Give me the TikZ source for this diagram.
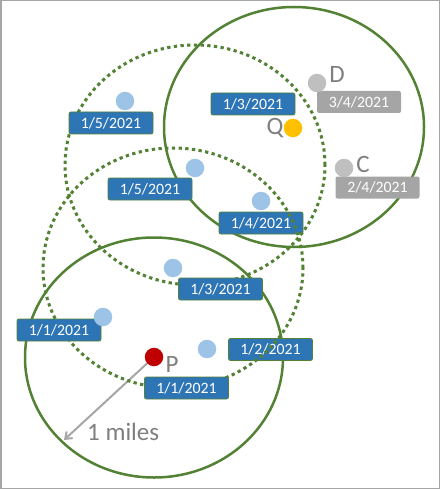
\documentclass[tikz,border=0pt]{standalone}
\usepackage{fontspec}
\setmainfont{Carlito}
\usetikzlibrary{arrows.meta}
\definecolor{grn}{HTML}{548235}
\definecolor{labblue}{HTML}{2E75B6}
\definecolor{dotblue}{HTML}{9DC3E6}
\definecolor{dotgray}{HTML}{BFBFBF}
\definecolor{labgray}{HTML}{A5A5A5}
\definecolor{ltrgray}{HTML}{7F7F7F}
\definecolor{qyellow}{HTML}{FFC000}
\definecolor{pred}{HTML}{C00000}
\definecolor{framegray}{HTML}{A6A6A6}
\definecolor{arrgray}{HTML}{A6A6A6}
\begin{document}
\begin{tikzpicture}[x=1pt,y=-1pt,
  solidring/.style={draw=grn, line width=2.5pt},
  dotring/.style={draw=grn, line width=3pt, dash pattern=on 3.3pt off 3.4pt},
  bluelab/.style={draw=grn, line width=0.8pt, fill=labblue, rounded corners=2pt,
    minimum width=84pt, minimum height=22pt, inner sep=0pt, text=white,
    font=\fontsize{15.8}{16}\selectfont},
  graylab/.style={bluelab, draw=none, fill=labgray},
  spot/.style={circle, minimum size=18.5pt, inner sep=0pt, draw=none},
  letter/.style={text=ltrgray, font=\fontsize{25}{25}\selectfont, inner sep=0pt, anchor=base}
]
\useasboundingbox (0,0) rectangle (440,489);
\fill[white] (0,0) rectangle (440,489);
\draw[framegray, line width=1.5pt] (0.75,0.75) rectangle (439.25,488.25);

% solid rings
\draw[solidring] (294,127) ellipse [x radius=130pt, y radius=120pt];
\draw[solidring] (154,357.5) ellipse [x radius=129pt, y radius=120pt];

% radius arrow
\coordinate (rimend) at (64,440);
\coordinate (pc) at (154,357);
\draw[arrgray, line width=2pt, -{Straight Barb[length=6pt,width=9pt]}] (pc) -- (rimend);

% labels that lie under the dotted rings
\node[bluelab] (l14) at (261,223) {1/4/2021};
\node[bluelab] (l12) at (270.5,349.5) {1/2/2021};

% dotted rings
\draw[dotring] (195,165) ellipse [x radius=130pt, y radius=120pt];
\draw[dotring] (173,268) ellipse [x radius=130pt, y radius=120pt];

% other labels
\node[bluelab] (l15a) at (111,123) {1/5/2021};
\node[bluelab] (l13q) at (253,104) {1/3/2021};
\node[bluelab] (l15b) at (150,189) {1/5/2021};
\node[bluelab] (l13) at (220.5,289) {1/3/2021};
\node[bluelab] (l11a) at (59,330) {1/1/2021};
\node[bluelab] (l11b) at (186.5,388) {1/1/2021};
\node[graylab] (g34) at (359,102) {3/4/2021};
\node[graylab] (g24) at (377.5,187.5) {2/4/2021};

% points
\node[spot, fill=dotblue] (b1) at (125,101) {};
\node[spot, fill=dotblue] (b2) at (195,168) {};
\node[spot, fill=dotblue] (b3) at (261,201) {};
\node[spot, fill=dotblue] (b4) at (173,268) {};
\node[spot, fill=dotblue] (b5) at (103,317) {};
\node[spot, fill=dotblue] (b6) at (207,349) {};
\node[spot, fill=dotgray] (dD) at (317,83) {};
\node[spot, fill=dotgray] (dC) at (344,168) {};
\node[spot, fill=qyellow] (dQ) at (293,128) {};
\node[spot, fill=pred] (dP) at (pc) {};

% letters
\node[letter] (tD) at (337,83) {D};
\node[letter] (tC) at (363,172) {C};
\node[letter] (tQ) at (275,135) {Q};
\node[letter] (tP) at (172,372) {P};
\node[letter, anchor=base west] (tmiles) at (87,440) {1 miles};
\end{tikzpicture}
\end{document}
